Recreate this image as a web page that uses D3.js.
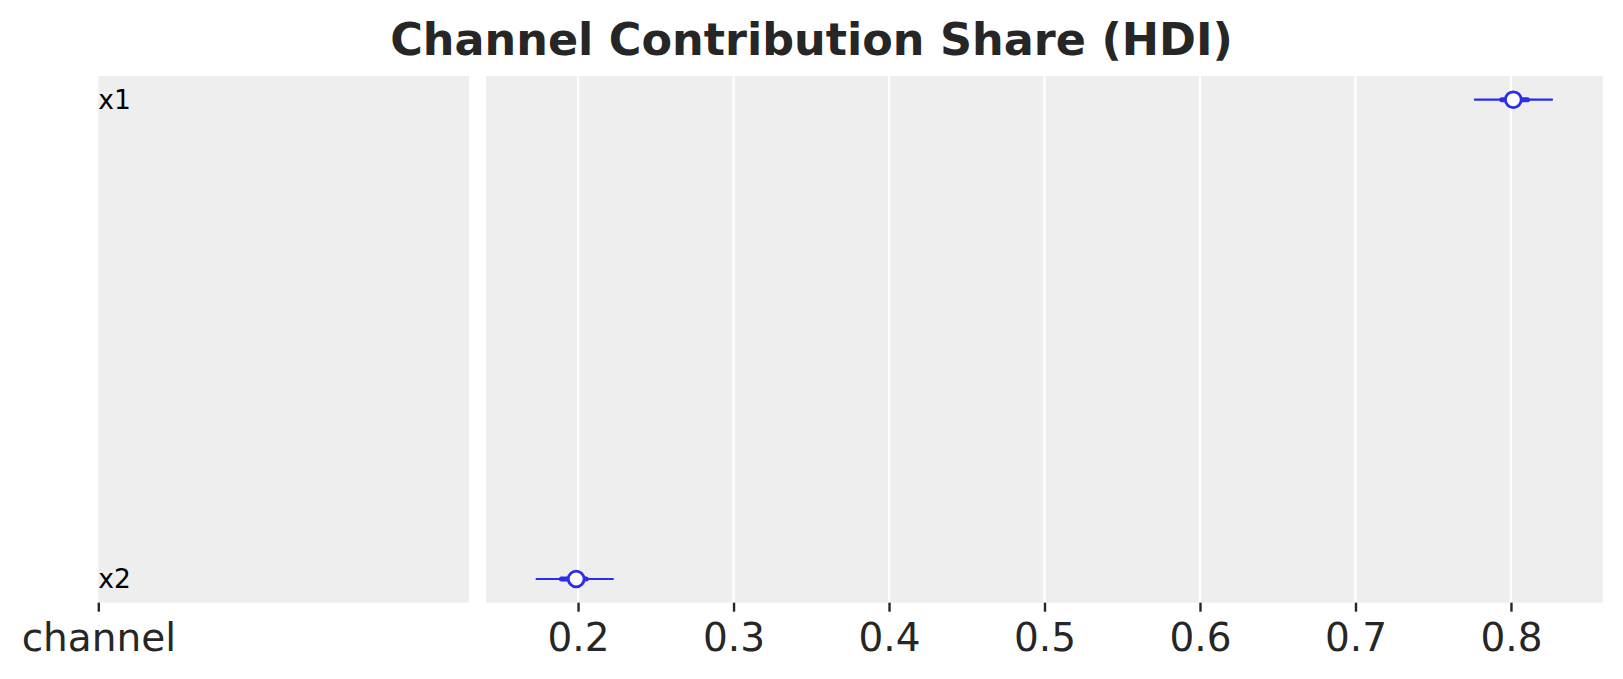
<!DOCTYPE html>
<html lang="en">
  <head>
    <meta charset="utf-8">
    <title>Channel Contribution Share (HDI)</title>
    <script src="https://cdn.jsdelivr.net/npm/d3@7"></script>
    <style>
      body { margin: 0; background: #fff; }
      text { font-family: "DejaVu Sans", sans-serif; }
    </style>
  </head>
  <body>
    <script type="text/javascript">
      // forest plot data
      var channels = ["x1", "x2"];
      var medians = [0.8015, 0.1988];
      var hdiLow = [0.7768, 0.1733];
      var hdiHigh = [0.8264, 0.2224];
      var iqrLow = [0.7941, 0.1893];
      var iqrHigh = [0.8106, 0.2053];
      var xTicks = [0.2, 0.3, 0.4, 0.5, 0.6, 0.7, 0.8];
      var labelTick = ["channel"];

      var width = 1623, height = 679;
      var plotTop = 76, plotBottom = 602.7;
      var blue = "#2a2eec";

      var svg = d3.select("body")
        .append("svg")
          .attr("width", width)
          .attr("height", height);

      // title across the whole figure
      svg.append("text")
        .attr("x", width / 2)
        .attr("y", 55)
        .attr("text-anchor", "middle")
        .style("font-size", "44.5px")
        .style("font-weight", "bold")
        .style("fill", "#262626")
        .text("Channel Contribution Share (HDI)");

      var y = d3.scalePoint()
        .domain(channels)
        .range([plotTop, plotBottom])
        .padding(0.0494);

      /*
        left panel : labels
        */
      var labelX = d3.scalePoint().domain(labelTick).range([98.3, 98.3]);
      var left = svg.append("g");
      left.append("rect")
        .attr("x", 98.3)
        .attr("y", plotTop)
        .attr("width", 469 - 98.3)
        .attr("height", plotBottom - plotTop)
        .style("fill", "#eeeeee");

      left.selectAll("text.lab")
        .data(channels)
        .enter()
        .append("text")
          .attr("class", "lab")
          .attr("x", 98.3)
          .attr("y", function (d) { return y(d); })
          .attr("dy", "0.35em")
          .style("font-size", "26.5px")
          .style("fill", "#000")
          .text(function (d) { return d; });

      var leftAxis = left.append("g")
        .attr("transform", "translate(0," + plotBottom + ")")
        .call(d3.axisBottom(labelX).tickSize(9).tickPadding(12));

      /*
        right panel : intervals
        */
      var x = d3.scaleLinear()
        .domain([0.1408, 0.859])
        .range([486, 1602.7]);

      var right = svg.append("g");
      right.append("rect")
        .attr("x", x.range()[0])
        .attr("y", plotTop)
        .attr("width", x.range()[1] - x.range()[0])
        .attr("height", plotBottom - plotTop)
        .style("fill", "#eeeeee");

      right.selectAll("line.grid")
        .data(xTicks)
        .enter()
        .append("line")
          .attr("class", "grid")
          .attr("x1", function (d) { return x(d); })
          .attr("x2", function (d) { return x(d); })
          .attr("y1", plotTop)
          .attr("y2", plotBottom)
          .style("stroke", "#fff")
          .style("stroke-width", 2.2);

      var rightAxis = right.append("g")
        .attr("transform", "translate(0," + plotBottom + ")")
        .call(d3.axisBottom(x).tickValues(xTicks).tickFormat(d3.format(".1f"))
          .tickSize(9).tickPadding(12));

      [leftAxis, rightAxis].forEach(function (a) {
        a.select(".domain").remove();
        a.selectAll(".tick line")
          .style("stroke", "#262626")
          .style("stroke-width", 2.4);
        a.selectAll(".tick text")
          .style("font-family", "DejaVu Sans, sans-serif")
          .style("font-size", "39px")
          .style("fill", "#262626");
      });

      // hdi (thin) and quartile (thick) bars, then the median point
      var idx = d3.range(channels.length);
      right.selectAll("line.hdi")
        .data(idx)
        .enter()
        .append("line")
          .attr("class", "hdi")
          .attr("x1", function (i) { return x(hdiLow[i]); })
          .attr("x2", function (i) { return x(hdiHigh[i]); })
          .attr("y1", function (i) { return y(channels[i]); })
          .attr("y2", function (i) { return y(channels[i]); })
          .style("stroke", blue)
          .style("stroke-width", 2.2)
          .style("stroke-linecap", "round");

      right.selectAll("line.iqr")
        .data(idx)
        .enter()
        .append("line")
          .attr("class", "iqr")
          .attr("x1", function (i) { return x(iqrLow[i]); })
          .attr("x2", function (i) { return x(iqrHigh[i]); })
          .attr("y1", function (i) { return y(channels[i]); })
          .attr("y2", function (i) { return y(channels[i]); })
          .style("stroke", blue)
          .style("stroke-width", 5)
          .style("stroke-linecap", "round");

      right.selectAll("circle.med")
        .data(idx)
        .enter()
        .append("circle")
          .attr("class", "med")
          .attr("cx", function (i) { return x(medians[i]); })
          .attr("cy", function (i) { return y(channels[i]); })
          .attr("r", 7.9)
          .style("fill", "#fff")
          .style("stroke", blue)
          .style("stroke-width", 2.8);
    </script>
  </body>
</html>
